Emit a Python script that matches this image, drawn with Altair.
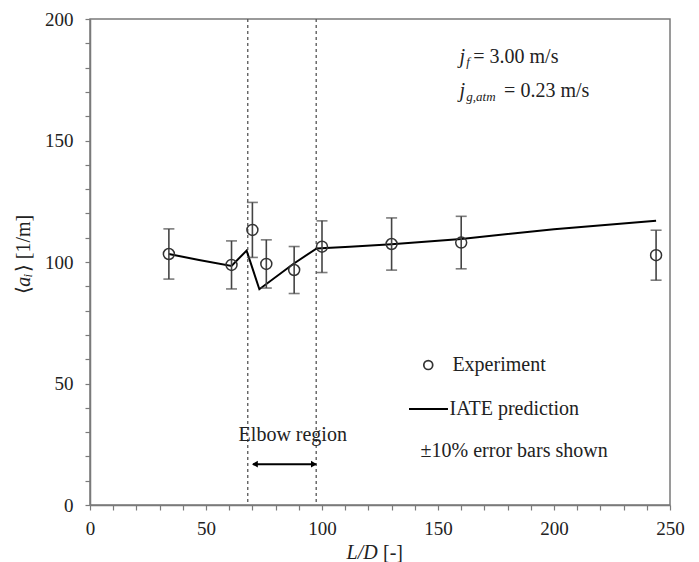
import altair as alt
import pandas as pd

# Experiment data
exp_x = [34, 61, 70, 76, 88, 100, 130, 160, 244]
exp_y = [103.3, 98.8, 113.2, 99.2, 96.7, 106.3, 107.4, 108.0, 102.8]
err_frac = 0.10

# IATE prediction
iate_x = [34, 47, 61, 67.5, 73, 87.6, 97.7, 112, 130, 160, 200, 244]
iate_y = [103.3, 100.8, 98.4, 104.7, 88.8, 99.2, 105.6, 106.3, 107.3, 109.5, 113.5, 117.0]

# Elbow region bounds
elbow_x = [68, 97.5]

x_ticks = list(range(0, 251, 10))
y_ticks = list(range(0, 201, 10))

FONT = "Liberation Serif"
AX = "#7a7a7a"
TXT = "#222"
FS = 20

exp_df = pd.DataFrame({
    "x": exp_x, "y": exp_y,
    "lo": [v * (1 - err_frac) for v in exp_y],
    "hi": [v * (1 + err_frac) for v in exp_y],
})
iate_df = pd.DataFrame({"x": iate_x, "y": iate_y})

xs = alt.Scale(domain=[0, 250], nice=False)
ys = alt.Scale(domain=[0, 200], nice=False)

LBL = "datum.value % 50 == 0 ? datum.label : ''"
x_axis = alt.Axis(values=x_ticks, labelExpr=LBL, labelPadding=9, title=None, grid=False)
y_axis = alt.Axis(values=y_ticks, labelExpr=LBL, labelPadding=12, title=None, grid=False)


def X(f="x"):
    return alt.X(f"{f}:Q", scale=xs, axis=x_axis)


def Y(f="y"):
    return alt.Y(f"{f}:Q", scale=ys, axis=y_axis)


def txt(df, size=FS, style="normal", align="left", angle=0):
    return alt.Chart(df).mark_text(font=FONT, fontSize=size, fontStyle=style, align=align,
                                   baseline="middle", color=TXT, angle=angle).encode(
        x=X(), y=Y(), text="t:N")


# Dashed vertical lines for elbow region
vlines = alt.Chart(pd.DataFrame({"x": elbow_x})).mark_rule(
    color="#555", strokeDash=[3, 3], strokeWidth=1.3
).encode(x=X(), y=alt.value(0), y2=alt.value(486))

iate = alt.Chart(iate_df).mark_line(color="black", strokeWidth=2).encode(x=X(), y=Y())

err = alt.Chart(exp_df).mark_rule(color="#444", strokeWidth=1.6).encode(x=X(), y=Y("lo"), y2="hi:Q")
cap_lo = alt.Chart(exp_df).mark_tick(color="#444", orient="horizontal", size=11, thickness=1.6).encode(
    x=X(), y=Y("lo"))
cap_hi = alt.Chart(exp_df).mark_tick(color="#444", orient="horizontal", size=11, thickness=1.6).encode(
    x=X(), y=Y("hi"))
pts = alt.Chart(exp_df).mark_point(shape="circle", size=120, filled=False, color="#333",
                                   strokeWidth=1.5, opacity=1).encode(x=X(), y=Y())

# Legend (manual)
leg_pt = alt.Chart(pd.DataFrame({"x": [145.8], "y": [57.6]})).mark_point(
    shape="circle", size=80, filled=False, color="#333", strokeWidth=1.7, opacity=1
).encode(x=X(), y=Y())
leg_line = alt.Chart(pd.DataFrame({"x": [137.5], "x2": [154.3], "y": [39.5]})).mark_rule(
    color="black", strokeWidth=2).encode(x=X(), x2="x2:Q", y=Y())

leg_text = txt(pd.DataFrame({
    "x": [156.2, 155.0, 142.5],
    "y": [57.6, 39.5, 22.2],
    "t": ["Experiment", "IATE prediction", "±10% error bars shown"],
}))
elbow_text = txt(pd.DataFrame({"x": [87.4], "y": [29.0], "t": ["Elbow region"]}), align="center")

# Double-headed arrow
arrow_line = alt.Chart(pd.DataFrame({"x": [70.3], "x2": [97.3], "y": [16.8]})).mark_rule(
    color="black", strokeWidth=2).encode(x=X(), x2="x2:Q", y=Y())
heads = alt.Chart(pd.DataFrame({"x": [71.5, 96.1], "y": [16.8, 16.8], "ang": [270, 90]})).mark_point(
    shape="triangle", filled=True, color="black", size=45, opacity=1).encode(
    x=X(), y=Y(), angle=alt.Angle("ang:Q", scale=None))

# Flow condition annotation
a1 = txt(pd.DataFrame({"x": [159.3, 159.3], "y": [184.5, 170.2], "t": ["j", "j"]}), style="italic")
a2 = txt(pd.DataFrame({"x": [162.2, 162.2], "y": [182.3, 168.0], "t": ["f", "g,atm"]}), size=13,
         style="italic")
a3 = txt(pd.DataFrame({"x": [165.2, 178.5], "y": [184.5, 170.2], "t": ["= 3.00 m/s", "= 0.23 m/s"]}))

# Axis titles as text (italic parts)
xt_it = txt(pd.DataFrame({"x": [110.6], "y": [-19.8], "t": ["L/D"]}), style="italic")
xt_n = txt(pd.DataFrame({"x": [126.3], "y": [-19.8], "t": ["[-]"]}))

yt_n = txt(pd.DataFrame({"x": [-28.4, -28.4, -28.4], "y": [88.3, 97.4, 110.3],
                         "t": ["⟨", "⟩", "[1/m]"]}), align="center", angle=270)
yt_a = txt(pd.DataFrame({"x": [-28.4], "y": [91.9], "t": ["a"]}), style="italic", align="center",
           angle=270)
yt_i = txt(pd.DataFrame({"x": [-26.6], "y": [94.4], "t": ["i"]}), size=13, style="italic",
           align="center", angle=270)

chart = alt.layer(
    vlines, iate, err, cap_lo, cap_hi, pts, leg_pt, leg_line, leg_text, elbow_text,
    arrow_line, heads, a1, a2, a3, xt_it, xt_n, yt_n, yt_a, yt_i
).properties(
    width=580, height=486,
    background="white",
    autosize=alt.AutoSizeParams(type="none"),
    padding={"left": 90, "top": 19, "right": 29, "bottom": 57},
).configure_axis(
    labelOverlap=False, labelFlush=False, grid=False,
    labelFont=FONT, labelFontSize=19, labelColor=TXT,
    domainColor=AX, tickColor=AX, tickSize=5, domainWidth=1.5, tickWidth=1.2,
).configure_view(stroke=AX, strokeWidth=1.5)

chart.save("out.html", embed_options={"renderer": "svg", "actions": False})
